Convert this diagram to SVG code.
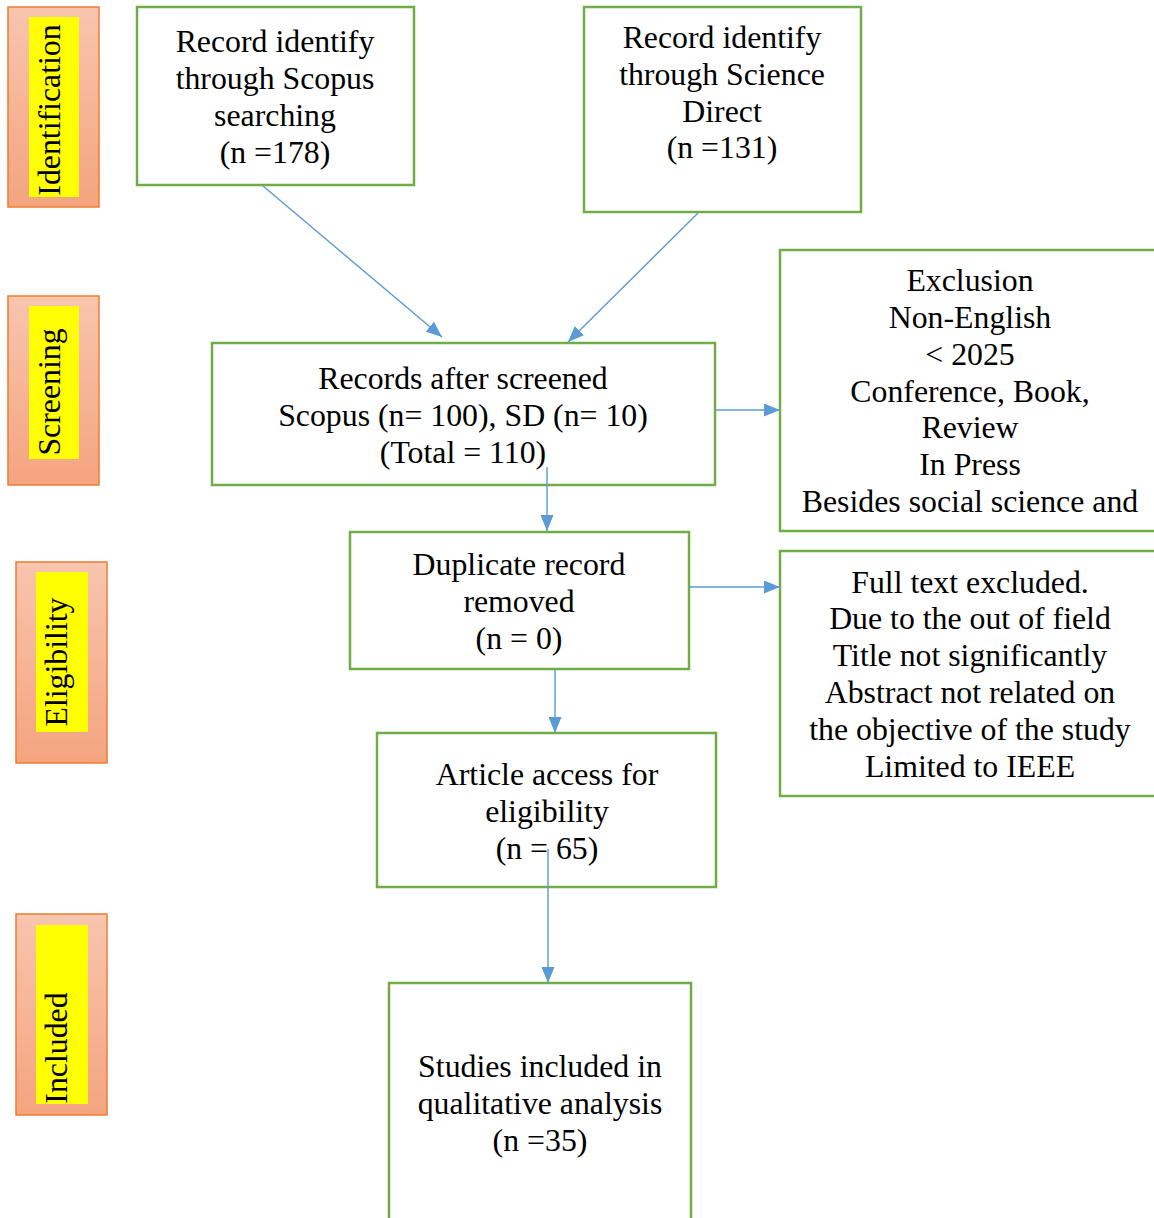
<svg xmlns="http://www.w3.org/2000/svg" width="1154" height="1218" viewBox="0 0 1154 1218">
<style>
.box{fill:#fff;stroke:#70AD47;stroke-width:2.5}
.stage{fill:url(#sg);stroke:#ED7D31;stroke-width:1.5}
.hl{fill:#FFFF00}
.t{font-family:"Liberation Serif","Times New Roman",serif;font-size:31.8px;fill:#000;text-anchor:middle}
.c{fill:none;stroke:#5B9BD5;stroke-width:1.4;marker-end:url(#ah)}
</style>
<defs>
<linearGradient id="sg" x1="0" y1="0" x2="0" y2="1">
<stop offset="0" stop-color="#F8C5AE"/>
<stop offset="1" stop-color="#F4A47F"/>
</linearGradient>
<marker id="ah" markerUnits="userSpaceOnUse" markerWidth="16" markerHeight="13" viewBox="0 0 16 13" refX="16" refY="6.5" orient="auto">
<path d="M0,0 L16,6.5 L0,13 z" fill="#5B9BD5"/>
</marker>
</defs>
<rect width="1154" height="1218" fill="#fff"/>

<g id="stage-identification">
<rect class="stage" x="8" y="7" width="91" height="200"/>
<rect class="hl" x="29" y="17" width="50" height="180"/>
<text class="t" transform="translate(60,110) rotate(-90)">Identification</text>
</g>
<g id="stage-screening">
<rect class="stage" x="8" y="296" width="91" height="189"/>
<rect class="hl" x="29" y="306" width="50" height="153"/>
<text class="t" transform="translate(60,392) rotate(-90)">Screening</text>
</g>
<g id="stage-eligibility">
<rect class="stage" x="16" y="562" width="91" height="201"/>
<rect class="hl" x="36" y="572" width="52" height="160"/>
<text class="t" transform="translate(67,662) rotate(-90)">Eligibility</text>
</g>
<g id="stage-included">
<rect class="stage" x="16" y="914" width="91" height="201"/>
<rect class="hl" x="36" y="925" width="52" height="179"/>
<text class="t" transform="translate(67,1048) rotate(-90)">Included</text>
</g>

<g id="scopus">
<rect class="box" x="137" y="7" width="277" height="178"/>
<text class="t" x="275" y="52">Record identify</text>
<text class="t" x="275" y="89">through Scopus</text>
<text class="t" x="275" y="126">searching</text>
<text class="t" x="275" y="163">(n =178)</text>
</g>
<g id="sciencedirect">
<rect class="box" x="584" y="7" width="277" height="205"/>
<text class="t" x="722" y="48">Record identify</text>
<text class="t" x="722" y="85">through Science</text>
<text class="t" x="722" y="122">Direct</text>
<text class="t" x="722" y="158">(n =131)</text>
</g>
<g id="screened">
<rect class="box" x="212" y="343" width="503" height="142"/>
<text class="t" x="463" y="389">Records after screened</text>
<text class="t" x="463" y="426">Scopus (n= 100), SD (n= 10)</text>
<text class="t" x="463" y="463">(Total = 110)</text>
</g>
<g id="exclusion">
<rect class="box" x="780" y="250" width="380" height="281"/>
<text class="t" x="970" y="291">Exclusion</text>
<text class="t" x="970" y="328">Non-English</text>
<text class="t" x="970" y="365">&lt; 2025</text>
<text class="t" x="970" y="402">Conference, Book,</text>
<text class="t" x="970" y="438">Review</text>
<text class="t" x="970" y="475">In Press</text>
<text class="t" x="970" y="512">Besides social science and</text>
</g>
<g id="duplicate">
<rect class="box" x="350" y="532" width="339" height="137"/>
<text class="t" x="519" y="575">Duplicate record</text>
<text class="t" x="519" y="612">removed</text>
<text class="t" x="519" y="649">(n = 0)</text>
</g>
<g id="fulltext">
<rect class="box" x="780" y="551" width="380" height="245"/>
<text class="t" x="970" y="593">Full text excluded.</text>
<text class="t" x="970" y="629">Due to the out of field</text>
<text class="t" x="970" y="666">Title not significantly</text>
<text class="t" x="970" y="703">Abstract not related on</text>
<text class="t" x="970" y="740">the objective of the study</text>
<text class="t" x="970" y="777">Limited to IEEE</text>
</g>
<g id="article">
<rect class="box" x="377" y="733" width="339" height="154"/>
<text class="t" x="547" y="785">Article access for</text>
<text class="t" x="547" y="822">eligibility</text>
<text class="t" x="547" y="859">(n = 65)</text>
</g>
<g id="included">
<rect class="box" x="389" y="983" width="302" height="245"/>
<text class="t" x="540" y="1077">Studies included in</text>
<text class="t" x="540" y="1114">qualitative analysis</text>
<text class="t" x="540" y="1151">(n =35)</text>
</g>

<g id="connectors">
<line class="c" x1="263" y1="186" x2="442" y2="337"/>
<line class="c" x1="698" y1="213" x2="568" y2="342"/>
<line class="c" x1="716" y1="410" x2="780" y2="410"/>
<line class="c" x1="547" y1="467" x2="547" y2="531"/>
<line class="c" x1="690" y1="587" x2="780" y2="587"/>
<line class="c" x1="555" y1="670" x2="555" y2="733"/>
<line class="c" x1="548" y1="849" x2="548" y2="983"/>
</g>
</svg>
